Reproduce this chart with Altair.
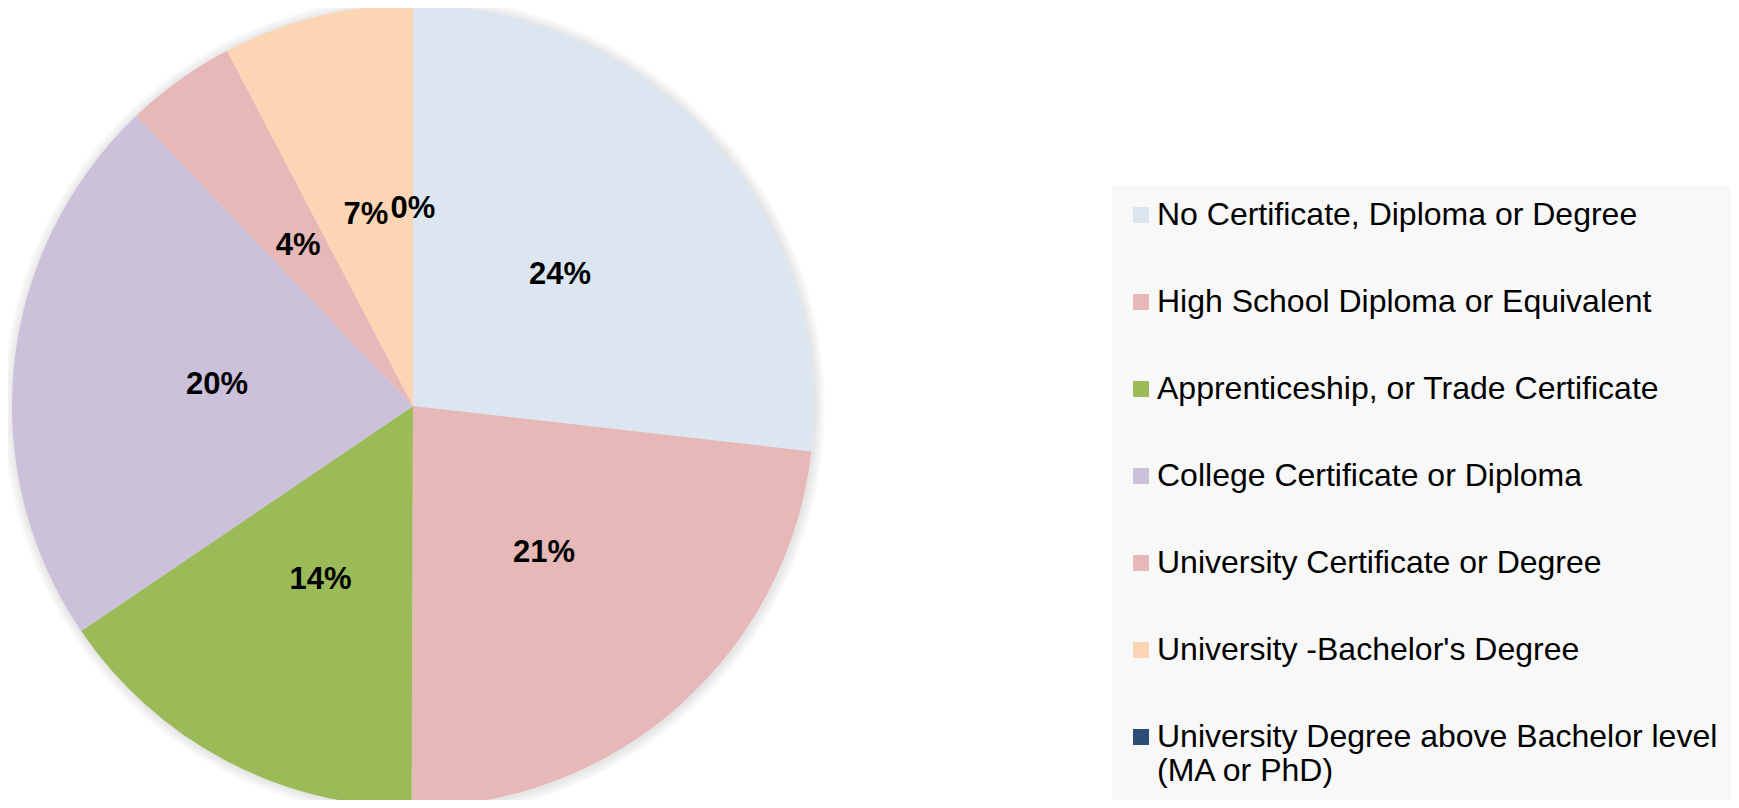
import altair as alt
import pandas as pd

categories = [
    "No Certificate, Diploma or Degree",
    "High School Diploma or Equivalent",
    "Apprenticeship, or Trade Certificate",
    "College Certificate or Diploma",
    "University Certificate or Degree",
    "University -Bachelor's Degree",
    "University Degree above Bachelor level (MA or PhD)",
]
values = [24.1, 20.9, 13.9, 20.1, 4.0, 6.9, 0.0]
colors = ["#DCE6F1", "#E6B9B8", "#9BBB59", "#CCC1DA", "#E6B9B8", "#FCD5B5", "#2C4D75"]

df = pd.DataFrame({"category": categories, "value": values, "idx": list(range(len(categories)))})

CX, CY, R = 405, 398, 401
LONG = categories[-1]

one = pd.DataFrame({"s": [0]})
shadow_layers = [
    alt.Chart(one).mark_arc(theta=0, theta2=6.2832, radius=R + d, fill="#000000", fillOpacity=0.018).encode(
        x=alt.value(CX + 1), y=alt.value(CY + 1)
    )
    for d in (2, 4, 6, 8, 10)
]

base = alt.Chart(df).encode(
    theta=alt.Theta("value:Q", stack=True),
    order=alt.Order("idx:Q", sort="ascending"),
    x=alt.value(CX), y=alt.value(CY),
)

arcs = base.mark_arc(radius=R).encode(
    color=alt.Color(
        "category:N",
        sort=categories,
        scale=alt.Scale(domain=categories, range=colors),
        legend=alt.Legend(
            title=None,
            orient="none",
            legendX=1104,
            legendY=178,
            fillColor="#F8F8F8",
            padding=13,
            symbolType="square",
            symbolSize=256,
            symbolStrokeWidth=0,
            symbolOffset=0,
            labelFont="Liberation Sans, Arial",
            labelFontSize=32,
            labelColor="#000000",
            labelLimit=700,
            labelOffset=0,
            rowPadding=55,
            labelExpr="datum.label == '" + LONG + "' ? ['University Degree above Bachelor level', '(MA or PhD)'] : datum.label",
        ),
    )
)

labels = base.transform_calculate(
    lab="format(datum.value / 100, '.0%')"
).mark_text(radius=197, font="Liberation Sans, Arial", fontWeight="bold", fontSize=31, color="#000000").encode(
    text="lab:N"
)

chart = alt.layer(*shadow_layers, arcs, labels).properties(
    width=1723, height=792, autosize="none", padding=0, background="#FFFFFF"
).configure_view(stroke=None)

chart.save("out.html", embed_options={"renderer": "svg", "actions": False})
